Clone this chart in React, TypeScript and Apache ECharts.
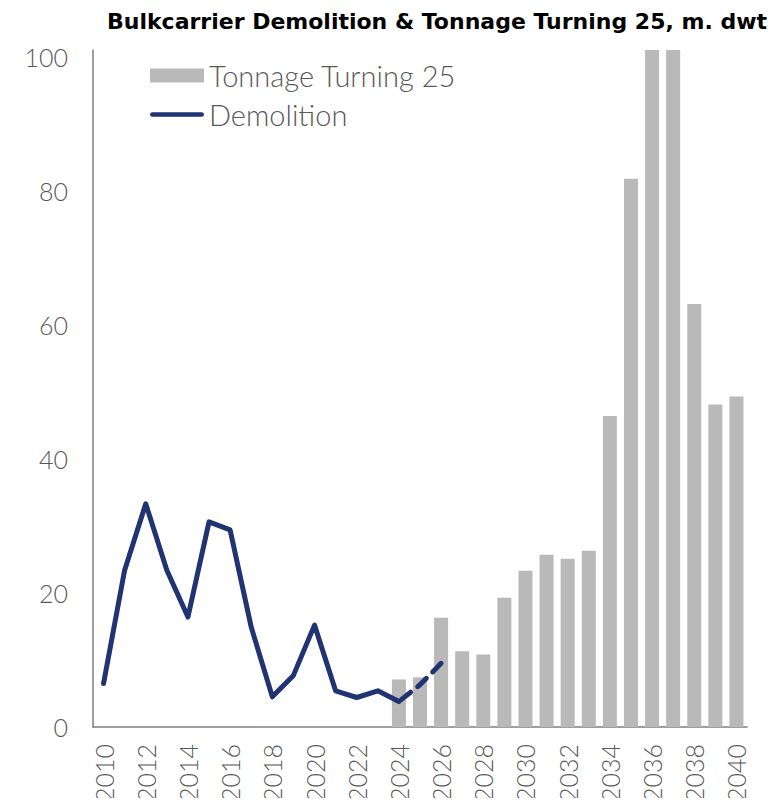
import React, { useEffect, useRef } from "react";
import * as echarts from "echarts";

// Years on the category axis
const years: string[] = [];
for (let y = 2010; y <= 2040; y++) years.push(String(y));

// Tonnage turning 25 years old, m. dwt (2024 onward)
const tonnageTurning25: (number | null)[] = [
  null, null, null, null, null, null, null, null, null, null, null, null, null, null,
  7.1, 7.4, 16.3, 11.3, 10.8, 19.3, 23.3, 25.7, 25.1, 26.3, 46.4, 81.8, 101, 101, 63.1, 48.1, 49.3,
];

// Demolition, m. dwt (actuals)
const demolition: (number | null)[] = [
  6.5, 23.4, 33.3, 23.4, 16.4, 30.6, 29.4, 14.9, 4.5, 7.7, 15.2, 5.4, 4.4, 5.4, 3.8,
];

// Demolition, m. dwt (projection, dashed)
const demolitionForecast: (number | null)[] = [
  null, null, null, null, null, null, null, null, null, null, null, null, null, null,
  3.8, 6.3, 9.5,
];

const yTicks = [0, 20, 40, 60, 80, 100];

const FONT = "Lato, 'Noto Sans', sans-serif";
const GREY_TEXT = "#595959";
const NAVY = "#203372";
const BAR = "#b9b9b9";

// Thick rounded stroke used as the legend marker for the demolition line
const LINE_ICON = "path://M2,0 L54,0 A2.5,2.5 0 0 1 54,5 L2,5 A2.5,2.5 0 0 1 2,0 Z";

export default function App() {
  const ref = useRef<HTMLDivElement>(null);

  useEffect(() => {
    if (!ref.current) return;
    const chart = echarts.init(ref.current, undefined, { renderer: "svg" });
    chart.setOption({
      animation: false,
      title: {
        text: "Bulkcarrier Demolition & Tonnage Turning 25, m. dwt",
        left: 432,
        textAlign: "center",
        top: 5,
        textStyle: {
          fontFamily: "'DejaVu Sans', sans-serif",
          fontWeight: "bold",
          fontSize: 22,
          color: "#000",
        },
      },
      legend: {
        data: [
          { name: "Tonnage Turning 25", icon: "rect" },
          { name: "Demolition", icon: LINE_ICON },
        ],
        orient: "vertical",
        left: 150,
        top: 61,
        padding: 0,
        itemWidth: 54,
        itemHeight: 14,
        itemGap: 10,
        textStyle: { fontFamily: FONT, fontWeight: 300, fontSize: 29, color: GREY_TEXT },
      },
      grid: { left: 93, right: 28, top: 50, bottom: 79, containLabel: false },
      xAxis: {
        type: "category",
        data: years,
        boundaryGap: true,
        axisLine: { lineStyle: { color: "#7f7f7f", width: 1.5 } },
        axisTick: { show: false },
        axisLabel: {
          interval: 1,
          rotate: 90,
          margin: 17,
          fontFamily: FONT,
          fontWeight: 300,
          fontSize: 25,
          color: GREY_TEXT,
        },
      },
      yAxis: {
        type: "value",
        min: 0,
        max: 101,
        interval: 20,
        splitLine: { show: false },
        axisLine: { show: true, lineStyle: { color: "#7f7f7f", width: 1.5 } },
        axisTick: { show: false },
        axisLabel: {
          margin: 25,
          fontFamily: FONT,
          fontWeight: 300,
          fontSize: 25,
          color: GREY_TEXT,
          formatter: (v: number) => (yTicks.includes(v) ? String(v) : ""),
        },
      },
      series: [
        {
          name: "Tonnage Turning 25",
          type: "bar",
          data: tonnageTurning25,
          barWidth: 14,
          itemStyle: { color: BAR },
        },
        {
          name: "Demolition",
          type: "line",
          data: demolition,
          symbol: "none",
          lineStyle: { color: NAVY, width: 5, cap: "round", join: "round" },
          itemStyle: { color: NAVY },
        },
        {
          name: "Demolition forecast",
          type: "line",
          data: demolitionForecast,
          symbol: "none",
          lineStyle: { color: NAVY, width: 5, type: [12, 9], dashOffset: -3, cap: "round" },
          itemStyle: { color: NAVY },
        },
      ],
    });
    return () => chart.dispose();
  }, []);

  return <div ref={ref} style={{ width: 775, height: 806, margin: -8 }} />;
}
